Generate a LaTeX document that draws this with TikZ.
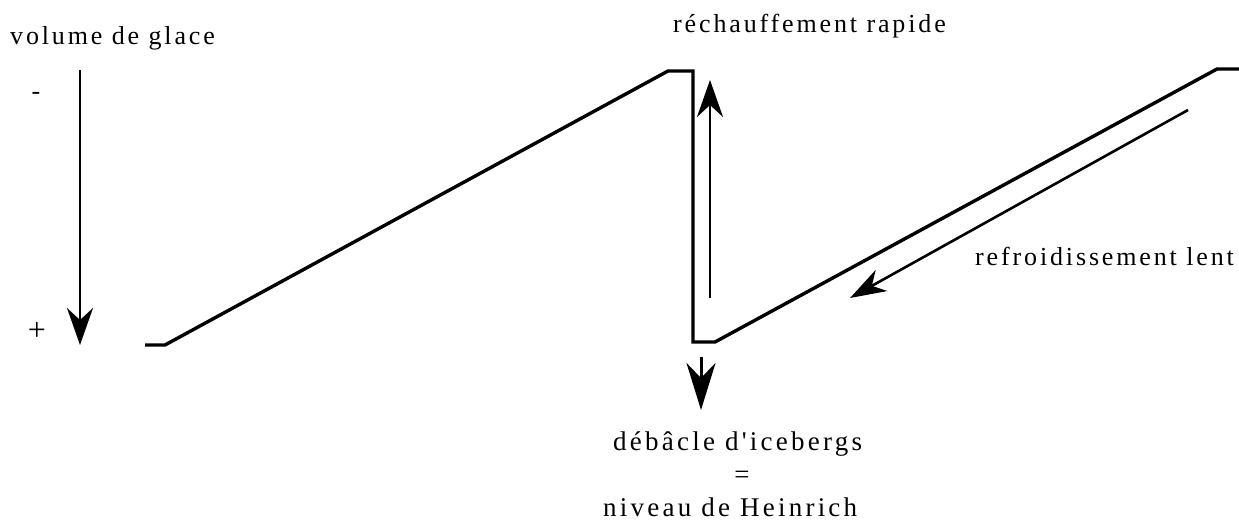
\documentclass[tikz,border=0pt]{standalone}
\usepackage{fontspec}
\setmainfont{Liberation Serif}
\newfontfamily\labfont{Liberation Serif}[LetterSpace=11]
\newfontfamily\biglabfont{Liberation Serif}[LetterSpace=12]
\usetikzlibrary{arrows.meta}
\begin{document}
\begin{tikzpicture}[x=1pt,y=-1pt,
  lab/.style={font=\labfont\fontsize{26}{31}\selectfont, inner sep=0pt},
  biglab/.style={font=\biglabfont\fontsize{27}{32}\selectfont, inner sep=0pt},
  signlab/.style={font=\fontsize{32}{36}\selectfont, inner sep=0pt},
  curve/.style={line width=3.4pt, line join=miter},
  arr/.style={line width=2.4pt, -{Stealth[length=37pt,width=26pt,inset=12pt]}},
  bigarr/.style={line width=3pt, -{Stealth[length=47pt,width=29pt,inset=15pt]}},
  slarr/.style={line width=2.6pt, -{Stealth[length=36pt,width=24pt,inset=11pt]}}]
\useasboundingbox (0,0) rectangle (1239,523);

% labels
\node[lab, anchor=base west] (vol) at (10,44) {volume de glace};
\node[lab] (minus) at (36,96) {-};
\node[signlab] (plus) at (37,331) {+};
\node[lab, anchor=base west] (rech) at (673,32) {réchauffement rapide};
\node[lab, anchor=base west] (refr) at (975,265) {refroidissement lent};
\node[biglab, anchor=base west] (deb) at (613,450) {débâcle d'icebergs};
\node[biglab] (eq) at (742,477) {=};
\node[biglab, anchor=base west] (niv) at (603,516) {niveau de Heinrich};

% main sawtooth curve
\coordinate (c0) at (145,345);
\coordinate (c1) at (165,345);
\coordinate (c2) at (668,71);
\coordinate (c3) at (693,71);
\coordinate (c4) at (693,342);
\coordinate (c5) at (715,342);
\coordinate (c6) at (1217,69);
\coordinate (c7) at (1239,69);
\draw[curve] (c0) -- (c1) -- (c2) -- (c3) -- (c4) -- (c5) -- (c6) -- (c7);

% arrows
\coordinate (vs) at (80,70);
\coordinate (ve) at (80,345);
\draw[arr] (vs) -- (ve);

\coordinate (us) at (710,298);
\coordinate (ue) at (710,80);
\draw[arr] (us) -- (ue);

\coordinate (ds) at (701,357);
\coordinate (de) at (701,410);
\draw[bigarr] (ds) -- (de);

\coordinate (ss) at (1188,110);
\coordinate (se) at (850,298);
\draw[slarr] (ss) -- (se);
\end{tikzpicture}
\end{document}
